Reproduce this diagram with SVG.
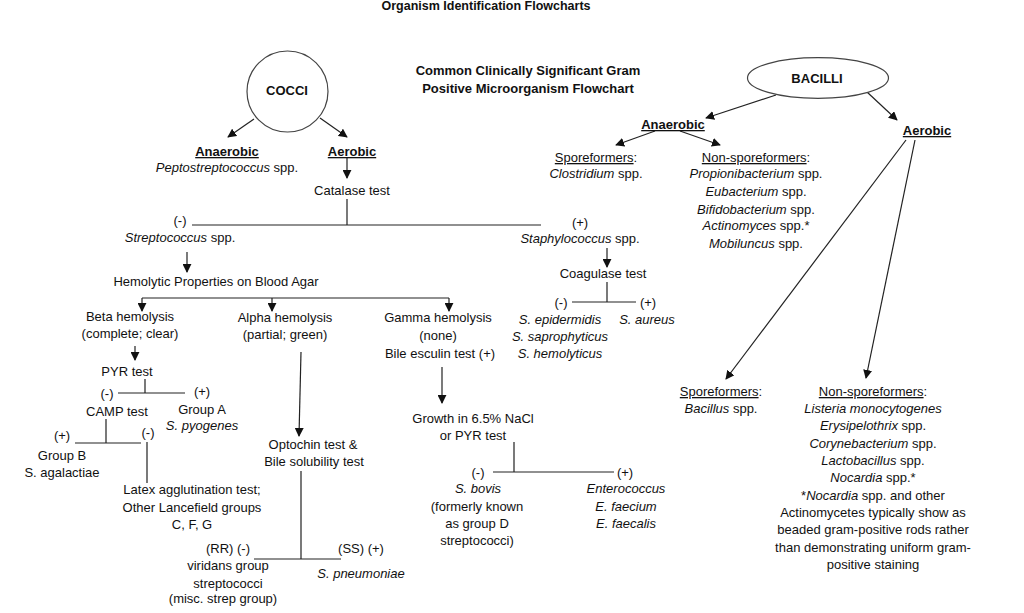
<svg xmlns="http://www.w3.org/2000/svg" width="1024" height="613" viewBox="0 0 1024 613">
<style>
text{font-family:"Liberation Sans",Arial,sans-serif;font-size:13px;fill:#111;text-anchor:middle}
.b{font-weight:bold}
.u{text-decoration:underline}
.i{font-style:italic}
.ln{stroke:#222;stroke-width:1.2;fill:none}
.ar{stroke:#222;stroke-width:1.2;fill:none;marker-end:url(#ah)}
.shape{fill:#fff;stroke:#444;stroke-width:1.2}
</style>
<defs>
<marker id="ah" viewBox="0 0 10 10" refX="9" refY="5" markerWidth="9" markerHeight="9" markerUnits="userSpaceOnUse" orient="auto">
<path d="M0,0 L10,5 L0,10 z" fill="#111"/>
</marker>
</defs>
<rect width="1024" height="613" fill="#fff"/>
<g id="title">
<text class="b" x="486" y="10" style="font-size:12.5px">Organism Identification Flowcharts</text>
<text class="b" x="528" y="75">Common Clinically Significant Gram</text>
<text class="b" x="528" y="93">Positive Microorganism Flowchart</text>
</g>
<g id="connectors">
<path class="ar" d="M254,119 L228,137"/>
<path class="ar" d="M320,118 L347,137"/>
<path class="ar" d="M347,158 L347,178"/>
<path class="ln" d="M347,199 V225 M192,225 H541"/>
<path class="ar" d="M187,252 V272"/>
<path class="ln" d="M142,298 H449"/>
<path class="ar" d="M142,298 V311"/>
<path class="ar" d="M272,298 V311"/>
<path class="ar" d="M449,298 V311"/>
<path class="ar" d="M135,346 V360"/>
<path class="ln" d="M145,379 V393 M118,393 H185"/>
<path class="ln" d="M106,419 V443 M75,443 H141 M147,442 V483"/>
<path class="ar" d="M301,352 L299,436"/>
<path class="ln" d="M301,471 V559 M254,559 H341"/>
<path class="ar" d="M442,367 V403"/>
<path class="ln" d="M514,442 V472 M493,472 H614"/>
<path class="ar" d="M607,248 V267"/>
<path class="ln" d="M607,282 V302 M572,302 H636"/>
<path class="ar" d="M776,95 L706,118"/>
<path class="ar" d="M867,92 L897,120"/>
<path class="ar" d="M655,131 L616,145"/>
<path class="ar" d="M680,131 L720,145"/>
<path class="ar" d="M906,140 L726,379"/>
<path class="ar" d="M915,140 L866,378"/>
</g>
<g id="cocci">
<circle class="shape" cx="287.5" cy="91.5" r="40.5"/>
<text class="b" x="287" y="95">COCCI</text>
</g>
<g id="cocci-anaerobic">
<text class="b u" x="227" y="156">Anaerobic</text>
<text x="227" y="172"><tspan class="i">Peptostreptococcus</tspan> spp.</text>
</g>
<g id="cocci-aerobic">
<text class="b u" x="352" y="156">Aerobic</text>
</g>
<g id="catalase">
<text x="352" y="195">Catalase test</text>
</g>
<g id="strep">
<text x="180" y="225">(-)</text>
<text x="180" y="242"><tspan class="i">Streptococcus</tspan> spp.</text>
</g>
<g id="staph">
<text x="580" y="227">(+)</text>
<text x="580" y="243"><tspan class="i">Staphylococcus</tspan> spp.</text>
</g>
<g id="hemolytic">
<text x="216" y="286">Hemolytic Properties on Blood Agar</text>
</g>
<g id="beta">
<text x="130" y="321">Beta hemolysis</text>
<text x="130" y="338">(complete; clear)</text>
</g>
<g id="alpha">
<text x="285" y="322">Alpha hemolysis</text>
<text x="285" y="339">(partial; green)</text>
</g>
<g id="gamma">
<text x="438" y="322">Gamma hemolysis</text>
<text x="438" y="340">(none)</text>
<text x="440" y="358">Bile esculin test (+)</text>
</g>
<g id="pyr">
<text x="127" y="376">PYR test</text>
<text x="107" y="398">(-)</text>
<text x="202" y="396">(+)</text>
</g>
<g id="camp">
<text x="117" y="416">CAMP test</text>
<text x="62" y="440">(+)</text>
<text x="148" y="437">(-)</text>
</g>
<g id="groupA">
<text x="202" y="414">Group A</text>
<text class="i" x="202" y="430">S. pyogenes</text>
</g>
<g id="groupB">
<text x="62" y="460">Group B</text>
<text x="62" y="477">S. agalactiae</text>
</g>
<g id="latex">
<text x="192" y="494">Latex agglutination test;</text>
<text x="192" y="512">Other Lancefield groups</text>
<text x="192" y="529">C, F, G</text>
</g>
<g id="optochin">
<text x="313" y="449">Optochin test &amp;</text>
<text x="314" y="466">Bile solubility test</text>
</g>
<g id="viridans">
<text x="228" y="553">(RR) (-)</text>
<text x="228" y="570">viridans group</text>
<text x="228" y="588">streptococci</text>
<text x="223" y="603">(misc. strep group)</text>
</g>
<g id="pneumoniae">
<text x="361" y="553">(SS) (+)</text>
<text class="i" x="361" y="578">S. pneumoniae</text>
</g>
<g id="nacl">
<text x="473" y="423">Growth in 6.5% NaCl</text>
<text x="473" y="440">or PYR test</text>
</g>
<g id="bovis">
<text x="478" y="477">(-)</text>
<text class="i" x="478" y="493">S. bovis</text>
<text x="477" y="511">(formerly known</text>
<text x="477" y="528">as group D</text>
<text x="477" y="545">streptococci)</text>
</g>
<g id="enterococcus">
<text x="625" y="477">(+)</text>
<text class="i" x="626" y="493">Enterococcus</text>
<text class="i" x="626" y="511">E. faecium</text>
<text class="i" x="626" y="528">E. faecalis</text>
</g>
<g id="coagulase">
<text x="603" y="278">Coagulase test</text>
</g>
<g id="coag-neg">
<text x="561" y="307">(-)</text>
<text class="i" x="560" y="324">S. epidermidis</text>
<text class="i" x="560" y="341">S. saprophyticus</text>
<text class="i" x="560" y="358">S. hemolyticus</text>
</g>
<g id="coag-pos">
<text x="648" y="307">(+)</text>
<text class="i" x="647" y="324">S. aureus</text>
</g>
<g id="bacilli">
<ellipse class="shape" cx="818" cy="78" rx="70.5" ry="20.3"/>
<text class="b" x="817" y="83">BACILLI</text>
</g>
<g id="bacilli-anaerobic">
<text class="b u" x="673" y="129">Anaerobic</text>
</g>
<g id="anaer-spore">
<text x="596" y="162"><tspan class="u">Sporeformers</tspan>:</text>
<text x="596" y="178"><tspan class="i">Clostridium</tspan> spp.</text>
</g>
<g id="anaer-nonspore">
<text x="756" y="162"><tspan class="u">Non-sporeformers</tspan>:</text>
<text x="756" y="178"><tspan class="i">Propionibacterium</tspan> spp.</text>
<text x="756" y="196"><tspan class="i">Eubacterium</tspan> spp.</text>
<text x="756" y="214"><tspan class="i">Bifidobacterium</tspan> spp.</text>
<text x="756" y="230"><tspan class="i">Actinomyces</tspan> spp.*</text>
<text x="756" y="248"><tspan class="i">Mobiluncus</tspan> spp.</text>
</g>
<g id="bacilli-aerobic">
<text class="b u" x="927" y="135">Aerobic</text>
</g>
<g id="aer-spore">
<text x="721" y="396"><tspan class="u">Sporeformers</tspan>:</text>
<text x="721" y="413"><tspan class="i">Bacillus</tspan> spp.</text>
</g>
<g id="aer-nonspore">
<text x="873" y="396"><tspan class="u">Non-sporeformers</tspan>:</text>
<text class="i" x="873" y="413">Listeria monocytogenes</text>
<text x="873" y="430"><tspan class="i">Erysipelothrix</tspan> spp.</text>
<text x="873" y="448"><tspan class="i">Corynebacterium</tspan> spp.</text>
<text x="873" y="465"><tspan class="i">Lactobacillus</tspan> spp.</text>
<text x="873" y="482"><tspan class="i">Nocardia</tspan> spp.*</text>
<text x="873" y="500">*<tspan class="i">Nocardia</tspan> spp. and other</text>
<text x="873" y="517">Actinomycetes typically show as</text>
<text x="873" y="534">beaded gram-positive rods rather</text>
<text x="873" y="552">than demonstrating uniform gram-</text>
<text x="873" y="569">positive staining</text>
</g>
</svg>
